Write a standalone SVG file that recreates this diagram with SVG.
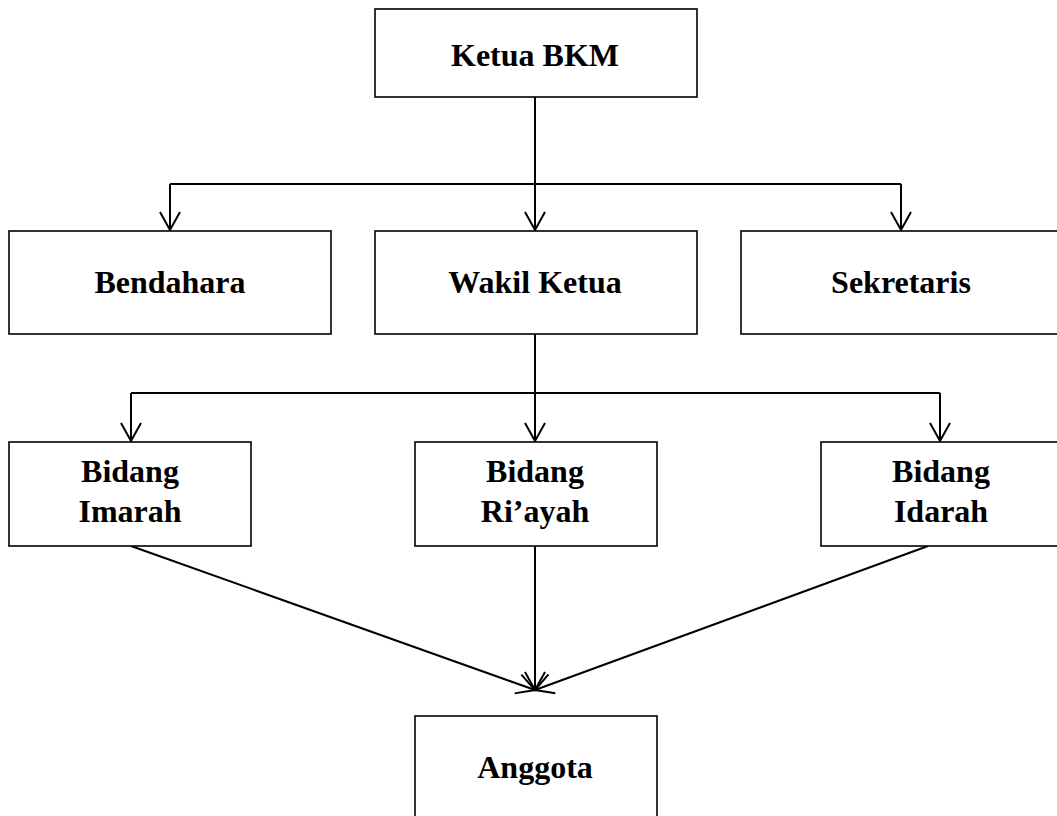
<svg xmlns="http://www.w3.org/2000/svg" width="1057" height="816" viewBox="0 0 1057 816">
<style>
.box{fill:#fff;stroke:#000;stroke-width:1.6}
.lbl{font-family:"Liberation Serif","Times New Roman",serif;font-weight:bold;font-size:32px;fill:#000;text-anchor:middle}
.ln{fill:none;stroke:#000;stroke-width:2}
</style>
<defs>
<marker id="ah" markerUnits="userSpaceOnUse" markerWidth="24" markerHeight="24" refX="20" refY="12" orient="auto" viewBox="0 0 24 24" overflow="visible">
<path d="M2,2 L20,12 L2,22" fill="none" stroke="#000" stroke-width="2"/>
</marker>
</defs>
<g id="connectors">
<path class="ln" d="M535,97 V184"/>
<path class="ln" d="M170,184 H901"/>
<path class="ln" d="M170,184 V230" marker-end="url(#ah)"/>
<path class="ln" d="M535,184 V230" marker-end="url(#ah)"/>
<path class="ln" d="M901,184 V230" marker-end="url(#ah)"/>
<path class="ln" d="M535,334 V393"/>
<path class="ln" d="M131,393 H940"/>
<path class="ln" d="M131,393 V441" marker-end="url(#ah)"/>
<path class="ln" d="M535,393 V441" marker-end="url(#ah)"/>
<path class="ln" d="M940,393 V441" marker-end="url(#ah)"/>
<path class="ln" d="M131,546 L535,690" marker-end="url(#ah)"/>
<path class="ln" d="M535,546 V690" marker-end="url(#ah)"/>
<path class="ln" d="M928,546 L535,690" marker-end="url(#ah)"/>
</g>
<g id="ketua"><rect class="box" x="375" y="9" width="322" height="88"/><text class="lbl" x="535" y="66">Ketua BKM</text></g>
<g id="bendahara"><rect class="box" x="9" y="231" width="322" height="103"/><text class="lbl" x="170" y="293">Bendahara</text></g>
<g id="wakil"><rect class="box" x="375" y="231" width="322" height="103"/><text class="lbl" x="535" y="293">Wakil Ketua</text></g>
<g id="sekretaris"><rect class="box" x="741" y="231" width="322" height="103"/><text class="lbl" x="901" y="293">Sekretaris</text></g>
<g id="imarah"><rect class="box" x="9" y="442" width="242" height="104"/><text class="lbl" x="130" y="482">Bidang</text><text class="lbl" x="130" y="522">Imarah</text></g>
<g id="riayah"><rect class="box" x="415" y="442" width="242" height="104"/><text class="lbl" x="535" y="482">Bidang</text><text class="lbl" x="535" y="522">Ri’ayah</text></g>
<g id="idarah"><rect class="box" x="821" y="442" width="242" height="104"/><text class="lbl" x="941" y="482">Bidang</text><text class="lbl" x="941" y="522">Idarah</text></g>
<g id="anggota"><rect class="box" x="415" y="716" width="242" height="110"/><text class="lbl" x="535" y="778">Anggota</text></g>
</svg>
